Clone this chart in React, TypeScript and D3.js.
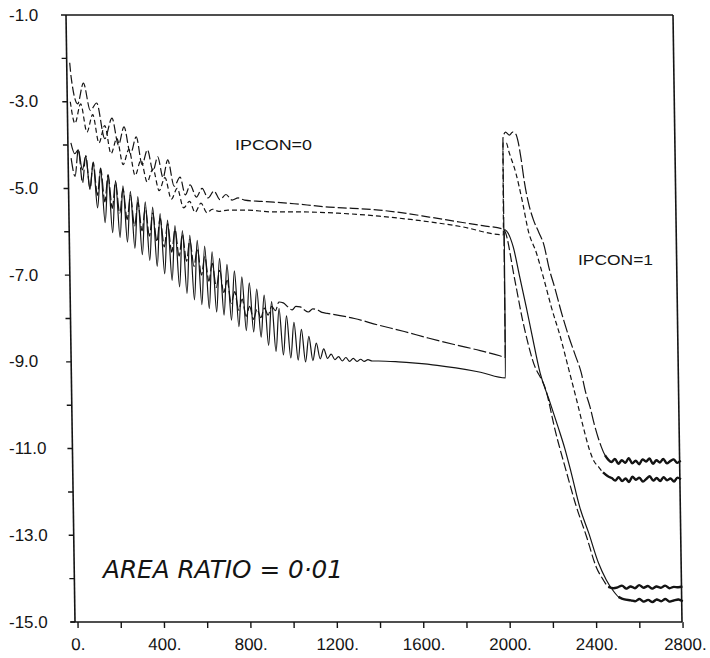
import React from "react";
import * as d3 from "d3";

type Pt = [number, number];

// ---- axis ticks / labels ----
const xTickValues = [0, 200, 400, 600, 800, 1000, 1200, 1400, 1600, 1800, 2000, 2200, 2400, 2600, 2800];
const xLabelValues = [0, 400, 800, 1200, 1600, 2000, 2400, 2800];
const xLabelTexts = ["0.", "400.", "800.", "1200.", "1600.", "2000.", "2400.", "2800."];
const yTickValues = [-15, -14, -13, -12, -11, -10, -9, -8, -7, -6, -5, -4, -3, -2, -1];
const yLabelValues = [-15, -13, -11, -9, -7, -5, -3, -1];
const yLabelTexts = ["-15.0", "-13.0", "-11.0", "-9.0", "-7.0", "-5.0", "-3.0", "-1.0"];

// ---- series (x = iteration, y = log residual) ----
// solid: comb-oscillating lower curve, then lower pair after restart
const solidSeries: Pt[] = [
  [0, -3.95], [17, -4.2], [34, -4.11], [51, -4.57], [68, -4.26], [85, -5.02], [102, -4.42], [119, -5.45],
  [136, -4.58], [153, -5.79], [170, -4.7], [187, -6.02], [204, -4.82], [221, -6.13], [238, -4.94], [255, -6.24],
  [272, -5.07], [289, -6.38], [306, -5.19], [323, -6.53], [340, -5.31], [357, -6.66], [374, -5.43], [391, -6.8],
  [408, -5.58], [425, -6.97], [442, -5.73], [459, -7.12], [476, -5.86], [493, -7.27], [510, -5.97], [527, -7.42],
  [544, -6.08], [561, -7.57], [578, -6.2], [595, -7.68], [612, -6.33], [629, -7.77], [646, -6.46], [663, -7.85],
  [680, -6.61], [697, -7.92], [714, -6.75], [731, -8.04], [748, -6.9], [765, -8.19], [782, -7.04], [799, -8.28],
  [816, -7.18], [833, -8.31], [850, -7.32], [867, -8.43], [884, -7.46], [901, -8.62], [918, -7.61], [935, -8.76],
  [952, -7.77], [969, -8.84], [986, -7.94], [1003, -8.91], [1020, -8.09], [1037, -8.96], [1054, -8.25], [1071, -9.0],
  [1088, -8.41], [1105, -8.97], [1122, -8.57], [1139, -8.93], [1156, -8.7], [1173, -8.92], [1190, -8.82], [1207, -8.95],
  [1224, -8.88], [1241, -8.98], [1258, -8.9], [1275, -8.99], [1292, -8.92], [1309, -8.99], [1326, -8.94], [1343, -8.99],
  [1360, -8.95], [1380, -8.98], [1409, -8.98], [1500, -9.0], [1580, -9.03], [1680, -9.08], [1766, -9.14], [1880, -9.24],
  [1995, -9.37],
  [2000, -5.95], [2040, -6.35], [2068, -7.04], [2096, -7.73], [2119, -8.33], [2156, -9.26], [2196, -9.88], [2235, -10.5],
  [2265, -11.0], [2293, -11.56], [2330, -12.35], [2370, -12.95], [2413, -13.64], [2448, -14.03], [2475, -14.25],
  [2503, -14.42], [2530, -14.48], [2560, -14.5],
  [2580, -14.52], [2600, -14.47], [2620, -14.53], [2640, -14.49], [2660, -14.54], [2680, -14.48], [2700, -14.52],
  [2720, -14.47], [2740, -14.53], [2760, -14.5], [2780, -14.48], [2800, -14.52],
];

// long dash: third curve in first phase, jumps to the peak and forms the upper IPCON=1 curve
const longDashSeries: Pt[] = [
  [0, -4.3], [17, -4.72], [34, -4.1], [51, -4.87], [68, -4.24], [85, -5.01], [102, -4.39], [119, -5.16],
  [136, -4.53], [153, -5.31], [170, -4.68], [187, -5.46], [204, -4.85], [221, -5.58], [238, -5.01], [255, -5.72],
  [272, -5.16], [289, -5.87], [306, -5.32], [323, -5.98], [340, -5.44], [357, -6.1], [374, -5.57], [391, -6.23],
  [408, -5.69], [425, -6.35], [442, -5.81], [459, -6.47], [476, -5.95], [493, -6.56], [510, -6.06], [527, -6.68],
  [544, -6.18], [561, -6.8], [578, -6.38], [595, -7.0], [612, -6.57], [629, -7.14], [646, -6.73], [663, -7.28],
  [680, -6.89], [697, -7.4], [714, -7.12], [731, -7.65], [748, -7.38], [765, -7.81], [782, -7.55], [799, -7.95],
  [816, -7.72], [833, -8.02], [850, -7.78], [867, -7.98], [884, -7.76], [901, -7.92], [918, -7.72], [935, -7.82],
  [952, -7.62], [972, -7.64], [990, -7.72], [1013, -7.8], [1030, -7.72], [1050, -7.73], [1068, -7.8], [1087, -7.85],
  [1108, -7.78], [1129, -7.8], [1150, -7.86], [1175, -7.88], [1300, -8.0], [1410, -8.15], [1530, -8.3], [1640, -8.45],
  [1760, -8.6], [1880, -8.74], [1970, -8.86], [1995, -8.9],
  [2000, -3.84], [2012, -3.7], [2030, -3.77], [2045, -3.7], [2060, -3.75], [2068, -3.88], [2082, -4.3], [2096, -4.85],
  [2112, -5.3], [2135, -5.72], [2160, -6.02], [2182, -6.3], [2205, -6.85], [2230, -7.3], [2258, -7.85], [2293, -8.45],
  [2320, -8.85], [2346, -9.25], [2365, -9.7], [2385, -10.05], [2402, -10.42], [2420, -10.75], [2434, -10.96],
  [2450, -11.15], [2466, -11.26],
  [2480, -11.31], [2496, -11.24], [2512, -11.35], [2528, -11.27], [2544, -11.33], [2560, -11.22], [2576, -11.34],
  [2592, -11.28], [2608, -11.36], [2624, -11.25], [2640, -11.3], [2656, -11.23], [2672, -11.35], [2688, -11.27],
  [2704, -11.32], [2720, -11.24], [2736, -11.34], [2752, -11.29], [2768, -11.25], [2784, -11.33], [2800, -11.28],
];

// dashed: top curve in first phase, then lower IPCON=1 pair
const dashSeries: Pt[] = [
  [0, -2.1], [6, -2.45], [34, -3.05], [62, -2.57], [92, -3.2], [122, -3.03], [157, -3.85], [192, -3.38],
  [220, -4.0], [247, -3.58], [275, -4.2], [303, -3.81], [328, -4.45], [354, -4.11], [378, -4.6], [401, -4.27],
  [424, -4.75], [447, -4.34], [475, -4.95], [503, -4.74], [526, -5.15], [549, -4.92], [577, -5.2], [604, -5.0],
  [631, -5.22], [659, -5.06], [686, -5.26], [714, -5.14], [742, -5.27], [770, -5.22], [800, -5.27], [880, -5.3],
  [1000, -5.34], [1190, -5.43], [1300, -5.46], [1422, -5.5], [1540, -5.57], [1653, -5.66], [1800, -5.78],
  [1900, -5.86], [1995, -5.94],
  [2000, -5.96], [2045, -7.11], [2078, -8.03], [2122, -8.96], [2185, -9.72], [2221, -10.57], [2272, -11.56],
  [2309, -12.25], [2360, -13.04], [2402, -13.73], [2434, -14.03], [2457, -14.19], [2480, -14.22],
  [2500, -14.2], [2520, -14.16], [2540, -14.23], [2560, -14.18], [2580, -14.22], [2600, -14.15], [2620, -14.21],
  [2640, -14.17], [2660, -14.23], [2680, -14.18], [2700, -14.21], [2720, -14.16], [2740, -14.22], [2760, -14.19],
  [2780, -14.2], [2800, -14.18],
];

// short dash: second curve in first phase, then inner upper IPCON=1 curve
const shortDashSeries: Pt[] = [
  [0, -3.0], [20, -3.5], [48, -3.05], [75, -3.7], [103, -3.3], [130, -3.95], [158, -3.55], [185, -4.2],
  [213, -3.85], [240, -4.45], [268, -4.1], [295, -4.7], [323, -4.35], [350, -4.85], [378, -4.55], [405, -5.05],
  [433, -4.75], [461, -5.25], [489, -5.0], [517, -5.45], [545, -5.3], [570, -5.55], [598, -5.34], [625, -5.56],
  [650, -5.48], [680, -5.53], [722, -5.5], [815, -5.5], [921, -5.54], [1028, -5.54], [1231, -5.57], [1422, -5.64],
  [1653, -5.77], [1800, -5.88], [1995, -6.07],
  [2000, -3.95], [2015, -3.95], [2027, -4.16], [2057, -4.64], [2087, -5.34], [2110, -5.96], [2147, -6.49],
  [2177, -7.04], [2212, -7.73], [2256, -8.5], [2286, -9.12], [2323, -9.88], [2355, -10.57], [2379, -11.03],
  [2400, -11.3], [2420, -11.42], [2440, -11.55], [2466, -11.65],
  [2480, -11.68], [2496, -11.74], [2512, -11.66], [2528, -11.75], [2544, -11.69], [2560, -11.77], [2576, -11.65],
  [2592, -11.72], [2608, -11.67], [2624, -11.76], [2640, -11.7], [2656, -11.64], [2672, -11.74], [2688, -11.68],
  [2704, -11.75], [2720, -11.66], [2736, -11.73], [2752, -11.69], [2768, -11.76], [2784, -11.67], [2800, -11.71],
];

// x where each curve settles onto its noisy plateau (drawn heavier, as in the scan)
const SERIES: { data: Pt[]; dash: string; plateauFrom: number }[] = [
  { data: dashSeries, dash: "9,3", plateauFrom: 2457 },
  { data: shortDashSeries, dash: "5,3", plateauFrom: 2440 },
  { data: longDashSeries, dash: "13,3", plateauFrom: 2450 },
  { data: solidSeries, dash: "none", plateauFrom: 2503 },
];

export default function App() {
  const x = d3.scaleLinear().domain([0, 2800]).range([78, 683]);
  const y = d3.scaleLinear().domain([-15, -1]).range([622, 15]);
  const line = d3
    .line<Pt>()
    .x((d) => x(d[0]))
    .y((d) => y(d[1]))
    .curve(d3.curveMonotoneX);

  const tan = 9 / 607;
  const skewDeg = (Math.atan(tan) * 180) / Math.PI;
  const left = x(0) - 3;
  const right = x(2800) - 1;
  const top = y(-1);
  const bottom = y(-15);
  const font = "'Liberation Sans', Arial, Helvetica, sans-serif";
  const ink = "#141414";

  return (
    <svg
      width={710}
      height={658}
      viewBox="0 0 710 658"
      style={{ position: "absolute", left: 0, top: 0, display: "block", background: "#fff" }}
    >
      <rect x={0} y={0} width={710} height={658} fill="#fff" />
      <g transform={`translate(${-bottom * tan},0) skewX(${skewDeg})`}>
        {/* frame */}
        <g stroke={ink} strokeWidth={1.6} fill="none">
          <line x1={left} y1={top} x2={right} y2={top} />
          <line x1={left} y1={top} x2={left} y2={bottom} />
          <line x1={right} y1={top} x2={right} y2={bottom} />
          <line x1={left - 4} y1={bottom} x2={right} y2={bottom} />
        </g>
        {/* y ticks */}
        <g stroke={ink} strokeWidth={1.4}>
          {yTickValues.map((v) => (
            <line key={v} x1={left - 5} x2={left} y1={y(v)} y2={y(v)} />
          ))}
        </g>
        {/* x ticks */}
        <g stroke={ink} strokeWidth={1.4}>
          {xTickValues.map((v) => (
            <line key={v} x1={x(v)} x2={x(v)} y1={bottom} y2={bottom + 6} />
          ))}
        </g>
        {/* series */}
        <g fill="none" stroke={ink} strokeWidth={1.2} strokeLinejoin="round">
          {SERIES.map((s, i) => (
            <path key={i} d={line(s.data) || ""} strokeDasharray={s.dash} />
          ))}
        </g>
        {/* heavy noisy plateaus */}
        <g fill="none" stroke={ink} strokeWidth={2.4} strokeLinejoin="round">
          {SERIES.map((s, i) => (
            <path key={i} d={line(s.data.filter((d) => d[0] >= s.plateauFrom)) || ""} />
          ))}
        </g>
        {/* x labels */}
        <g fontFamily={font} fontSize={17} fill={ink} textAnchor="middle">
          {xLabelValues.map((v, i) => (
            <text key={v} x={x(v) + (i === xLabelValues.length - 1 ? 2 : 0)} y={650}>
              {xLabelTexts[i]}
            </text>
          ))}
        </g>
      </g>
      {/* y labels */}
      <g fontFamily={font} fontSize={17} fill={ink}>
        {yLabelValues.map((v, i) => (
          <text key={v} x={9} y={y(v)} dominantBaseline="central">
            {yLabelTexts[i]}
          </text>
        ))}
      </g>
      {/* annotations */}
      <text x={235} y={150} fontFamily={font} fontSize={15} fill={ink} textLength={77} lengthAdjust="spacingAndGlyphs">
        IPCON=0
      </text>
      <text x={578} y={265} fontFamily={font} fontSize={15} fill={ink} textLength={75} lengthAdjust="spacingAndGlyphs">
        IPCON=1
      </text>
      <text
        x={103}
        y={578}
        fontFamily="'DejaVu Sans', sans-serif"
        fontStyle="italic"
        fontWeight={200}
        fontSize={25}
        fill={ink}
        textLength={240}
        lengthAdjust="spacingAndGlyphs"
      >
        AREA RATIO = 0·01
      </text>
    </svg>
  );
}
